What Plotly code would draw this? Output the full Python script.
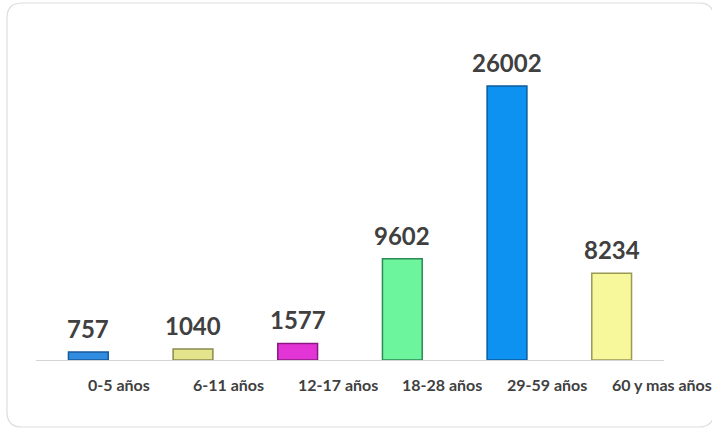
import plotly.graph_objects as go

categories = ["0-5 años", "6-11 años", "12-17 años", "18-28 años", "29-59 años", "60 y mas años"]
values = [757, 1040, 1577, 9602, 26002, 8234]
colors = ["#2F8CE0", "#E4E48C", "#E335D6", "#6CF59C", "#0D92F2", "#F7F79C"]
edge_colors = ["#1A5A9A", "#8A8A50", "#8A1A80", "#2E8A55", "#0A5A9A", "#9A9A55"]

fig = go.Figure()
fig.add_trace(go.Bar(
    x=categories, y=values, width=0.38,
    marker=dict(color=colors, line=dict(color=edge_colors, width=1.5)),
    hoverinfo="x+y",
))

annotations = []
for c, v in zip(categories, values):
    annotations.append(dict(x=c, y=v, xref="x", yref="y", text=f"<b>{v}</b>",
                            showarrow=False, yanchor="bottom", yshift=7,
                            font=dict(family="Lato", size=24, color="#404040")))
    annotations.append(dict(x=c, y=0, xref="x", yref="y", text=f"<b>{c}</b>",
                            showarrow=False, xanchor="left", yanchor="middle",
                            xshift=-2, yshift=-24,
                            font=dict(family="Lato", size=16, color="#404040")))

L, R, T, B = -0.0462, 1.0796, 1.05, -0.197
rx, ry = 0.0239, 0.0441
border = (f"M {L+rx},{T} L {R-rx},{T} Q {R},{T} {R},{T-ry} L {R},{B+ry} Q {R},{B} {R-rx},{B} "
          f"L {L+rx},{B} Q {L},{B} {L},{B+ry} L {L},{T-ry} Q {L},{T} {L+rx},{T} Z")

fig.update_layout(
    width=712, height=429,
    margin=dict(l=36, r=48, t=20, b=69),
    paper_bgcolor="white", plot_bgcolor="white",
    showlegend=False,
    xaxis=dict(range=[-0.5, 5.5], showline=True, linecolor="#D4D4D4", linewidth=1,
               showticklabels=False, ticks="", showgrid=False, zeroline=False),
    yaxis=dict(range=[0, 32265], visible=False, showgrid=False, zeroline=False),
    annotations=annotations,
    shapes=[dict(type="path", xref="paper", yref="paper", layer="below",
                 path=border, line=dict(color="#DDDDDD", width=1.2))],
)

fig.write_html("out.html", config={"displayModeBar": False},
               post_script="document.body.style.margin='0';document.body.style.overflow='hidden';")
